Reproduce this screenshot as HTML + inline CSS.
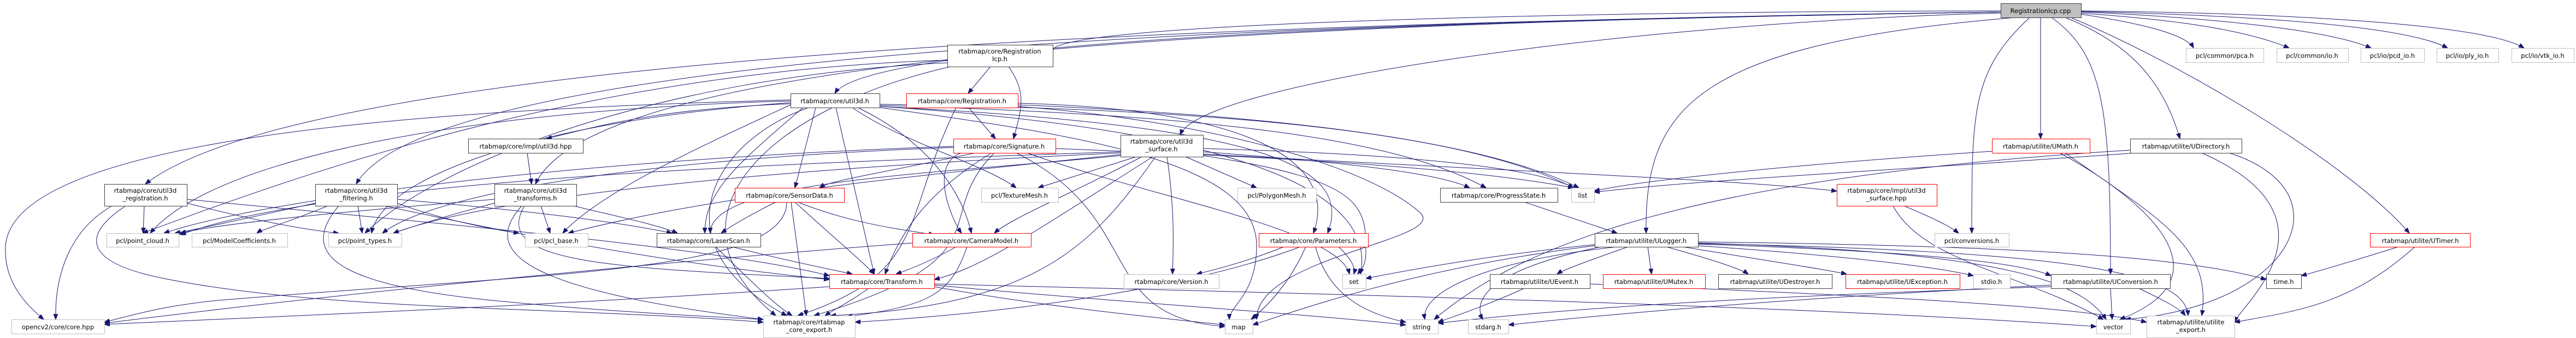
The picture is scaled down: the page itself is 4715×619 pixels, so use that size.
<!DOCTYPE html>
<html><head><meta charset="utf-8"><style>
html,body{margin:0;padding:0;background:#fff;}
svg{display:block;}
text{font-family:"DejaVu Sans","Liberation Sans",sans-serif;font-size:11.5px;fill:#000;text-anchor:middle;}
.e{fill:none;stroke:#191970;stroke-width:1;}
.n{fill:#fff;stroke:#404040;stroke-width:1;}
.r{fill:#fff;stroke:#ff0000;stroke-width:1;}
.g{fill:#fff;stroke:#bfbfbf;stroke-width:1;}
</style></head><body>
<svg width="4715" height="619" viewBox="0 0 4715 619" xmlns="http://www.w3.org/2000/svg">
<defs><marker id="a" viewBox="0 0 10 8" refX="10" refY="4" markerWidth="10" markerHeight="8" markerUnits="userSpaceOnUse" orient="auto"><path d="M0,0 L10,4 L0,8 z" fill="#191970" stroke="#191970"/></marker></defs>
<g marker-end="url(#a)">
<!-- cpp -->
<path class="e" d="M3662,20 C3000,20 1900,40 1927,95"/>
<path class="e" d="M3662,22 C3000,30 1600,60 1528,171"/>
<path class="e" d="M3662,22 C2500,40 600,80 266,337"/>
<path class="e" d="M3662,24 C3000,40 2200,150 2160,247"/>
<path class="e" d="M3662,22 C2500,40 1100,80 980,337"/>
<path class="e" d="M3662,22 C2500,40 800,80 652,337"/>
<path class="e" d="M3690,32 C3100,80 3010,200 3013,427"/>
<path class="e" d="M3735,32 L3735,254"/>
<path class="e" d="M3755,32 C3850,100 3863,200 3863,502"/>
<path class="e" d="M3780,32 C3900,80 3960,150 3990,254"/>
<path class="e" d="M3790,32 C4000,120 4300,300 4410,427"/>
<path class="e" d="M3715,32 C3610,130 3609,200 3609,427"/>
<path class="e" d="M3809,26 C3900,40 4000,60 4015,88"/>
<path class="e" d="M3809,24 C3950,34 4100,50 4190,88"/>
<path class="e" d="M3809,22 C4000,30 4250,50 4340,88"/>
<path class="e" d="M3809,21 C4100,28 4400,45 4480,88"/>
<path class="e" d="M3809,20 C4200,24 4550,45 4620,88"/>
<!-- icph -->
<path class="e" d="M1813,122 L1772,171"/>
<path class="e" d="M1846,122 C1880,170 1870,200 1855,254"/>
<path class="e" d="M1734,110 C1100,130 600,300 261,427"/>
<path class="e" d="M1734,115 C1200,140 800,300 668,427"/>
<path class="e" d="M1740,122 C1400,200 1200,400 1420,578"/>
<!-- regh -->
<path class="e" d="M1773,197 L1822,254"/>
<path class="e" d="M1750,197 C1650,400 1700,500 1460,578"/>
<path class="e" d="M1863,189 C2300,200 2450,300 2404,427"/>
<path class="e" d="M1863,192 C2300,210 2700,250 2890,344"/>
<path class="e" d="M1863,195 C2200,220 2500,300 2600,390 C2650,440 2300,470 2300,585"/>
<!-- u3d -->
<path class="e" d="M1447,190 C1200,200 1100,230 1000,254"/>
<path class="e" d="M1493,197 L1455,344"/>
<path class="e" d="M1530,197 L1600,502"/>
<path class="e" d="M1480,197 C1300,260 1200,450 1440,578"/>
<path class="e" d="M1570,197 C1700,260 1760,350 1778,427"/>
<path class="e" d="M1610,193 C2200,210 2550,250 2720,344"/>
<path class="e" d="M1610,195 C2300,230 2480,300 2430,427"/>
<path class="e" d="M1447,185 C900,200 400,280 275,427"/>
<path class="e" d="M1447,188 C1000,220 700,320 680,427"/>
<path class="e" d="M1447,192 C1300,260 1100,350 1030,427"/>
<path class="e" d="M1560,197 C1650,260 1800,300 1860,344"/>
<path class="e" d="M1447,183 C800,200 0,250 10,460 C10,520 50,560 80,585"/>
<path class="e" d="M1610,191 C2300,200 2700,250 2880,344"/>
<path class="e" d="M1610,197 C2000,250 2300,300 2300,450 C2300,540 2250,560 2250,585"/>
<path class="e" d="M1610,195 C2300,240 2520,360 2490,502"/>
<path class="e" d="M1470,197 C1350,300 1290,350 1290,427"/>
<!-- ihpp -->
<path class="e" d="M965,280 L973,337"/>
<!-- sig -->
<path class="e" d="M1785,280 C1600,320 1520,330 1500,344"/>
<path class="e" d="M1815,280 C1700,350 1650,420 1620,502"/>
<path class="e" d="M1820,280 C1700,400 1850,470 1490,578"/>
<path class="e" d="M1860,280 C2100,400 2000,580 2242,598"/>
<path class="e" d="M1932,272 C2400,290 2700,310 2880,344"/>
<path class="e" d="M1880,280 C2100,360 2450,420 2470,502"/>
<path class="e" d="M1760,280 C1700,300 1740,400 1760,427"/>
<path class="e" d="M1745,270 C1200,290 800,350 700,427"/>
<path class="e" d="M1745,268 C1100,290 500,360 300,427"/>
<!-- surf -->
<path class="e" d="M2080,287 L1900,344"/>
<path class="e" d="M2170,287 L2300,344"/>
<path class="e" d="M2090,287 C1950,360 1850,400 1820,427"/>
<path class="e" d="M2110,287 C1900,420 1800,490 1710,512"/>
<path class="e" d="M2115,287 C2000,450 1900,560 1520,578"/>
<path class="e" d="M2136,287 C2150,380 2148,450 2146,502"/>
<path class="e" d="M2202,278 C2500,300 2640,320 2690,344"/>
<path class="e" d="M2202,272 C2500,280 2800,300 2880,344"/>
<path class="e" d="M2202,282 C2700,310 3200,330 3362,350"/>
<path class="e" d="M2051,278 C1400,300 600,330 330,430"/>
<path class="e" d="M2051,280 C1400,310 900,360 720,427"/>
<path class="e" d="M2051,283 C1600,330 1300,360 1040,427"/>
<path class="e" d="M2051,285 C1700,320 1300,330 1300,427"/>
<path class="e" d="M2202,285 C2500,330 2500,380 2500,460 C2500,490 2490,495 2485,502"/>
<!-- reg3 -->
<path class="e" d="M264,377 L262,427"/>
<path class="e" d="M342,372 C450,400 550,420 620,427"/>
<path class="e" d="M205,377 C130,420 100,500 102,585"/>
<path class="e" d="M230,377 C150,430 150,480 300,510 C600,570 1000,560 1397,590"/>
<path class="e" d="M342,365 C700,400 1300,450 1518,505"/>
<!-- filt -->
<path class="e" d="M577,372 C450,400 360,420 320,427"/>
<path class="e" d="M600,377 C520,410 480,420 470,427"/>
<path class="e" d="M655,377 L663,427"/>
<path class="e" d="M620,377 C550,460 600,520 900,550 C1100,570 1300,580 1397,585"/>
<path class="e" d="M704,377 C900,420 1200,480 1518,512"/>
<path class="e" d="M727,365 C900,380 1100,400 1230,427"/>
<path class="e" d="M727,372 C800,400 900,420 950,427"/>
<!-- trans3 -->
<path class="e" d="M990,377 L1007,427"/>
<path class="e" d="M1050,377 C1100,390 1200,410 1240,427"/>
<path class="e" d="M905,365 C600,390 400,410 330,427"/>
<path class="e" d="M905,372 C800,400 740,420 720,427"/>
<path class="e" d="M955,377 C880,460 950,530 1397,585"/>
<path class="e" d="M960,377 C900,480 1100,490 1518,510"/>
<!-- sens -->
<path class="e" d="M1420,370 C1360,400 1330,420 1320,427"/>
<path class="e" d="M1460,370 C1560,410 1650,420 1710,430"/>
<path class="e" d="M1455,370 C1520,430 1580,480 1600,502"/>
<path class="e" d="M1448,370 L1476,578"/>
<path class="e" d="M1440,370 C1440,500 1000,500 400,550 C300,560 250,575 191,590"/>
<!-- laser -->
<path class="e" d="M1340,452 C1450,480 1530,495 1560,502"/>
<path class="e" d="M1310,452 C1380,520 1420,560 1450,578"/>
<!-- cam -->
<path class="e" d="M1750,452 C1700,480 1660,495 1640,502"/>
<path class="e" d="M1770,452 C1740,540 1700,560 1550,580"/>
<path class="e" d="M1670,445 C1200,480 600,540 191,592"/>
<!-- tf -->
<path class="e" d="M1590,528 C1560,550 1530,565 1510,578"/>
<path class="e" d="M1518,525 C1000,560 500,580 191,594"/>
<path class="e" d="M1710,520 C2500,540 3300,560 3837,598"/>
<path class="e" d="M1710,522 C2000,550 2400,575 2573,595"/>
<path class="e" d="M1710,525 C1900,560 2100,580 2242,595"/>
<!-- params -->
<path class="e" d="M2380,452 C2200,520 1900,570 1565,590"/>
<path class="e" d="M2350,452 C2280,480 2220,495 2190,502"/>
<path class="e" d="M2408,452 C2430,540 2500,575 2573,590"/>
<path class="e" d="M2390,452 C2360,520 2320,560 2290,585"/>
<path class="e" d="M2450,452 C2480,480 2480,495 2478,502"/>
<!-- prog -->
<path class="e" d="M2790,370 C2880,400 2940,420 2960,427"/>
<!-- ulog -->
<path class="e" d="M2980,452 C2900,480 2860,495 2850,502"/>
<path class="e" d="M3016,452 L3023,502"/>
<path class="e" d="M3050,452 C3150,480 3190,495 3200,502"/>
<path class="e" d="M3080,452 C3250,480 3350,495 3380,502"/>
<path class="e" d="M3108,450 C3400,470 3550,490 3612,505"/>
<path class="e" d="M3108,447 C3500,460 3700,480 3754,505"/>
<path class="e" d="M2960,452 C2700,480 2600,540 2608,585"/>
<path class="e" d="M2930,452 C2700,500 2700,560 2714,585"/>
<path class="e" d="M3108,445 C3600,460 3800,500 3855,585"/>
<path class="e" d="M2919,448 C2700,470 2550,500 2500,510"/>
<path class="e" d="M3108,443 C3700,450 4000,470 4148,512"/>
<path class="e" d="M3108,446 C3800,460 4000,500 4005,578"/>
<path class="e" d="M2919,450 C2600,490 2400,560 2293,595"/>
<!-- uevent -->
<path class="e" d="M2790,528 C2720,560 2660,580 2632,590"/>
<path class="e" d="M2910,520 C3400,540 3800,560 3929,590"/>
<!-- umath -->
<path class="e" d="M3646,277 C3300,300 3000,330 2918,350"/>
<path class="e" d="M3770,280 C3900,350 4100,500 3880,585"/>
<path class="e" d="M3780,280 C3950,400 4050,450 4030,578"/>
<!-- udir -->
<path class="e" d="M3910,280 C3500,310 3100,330 2918,352"/>
<path class="e" d="M4030,280 C4300,400 4100,560 4090,590"/>
<path class="e" d="M4080,280 C4300,350 4200,560 3890,585"/>
<path class="e" d="M3899,275 C3000,330 2750,480 2625,585"/>
<!-- utimer -->
<path class="e" d="M4390,452 C4300,480 4250,495 4212,505"/>
<path class="e" d="M4420,452 C4300,560 4200,570 4090,590"/>
<!-- uconv -->
<path class="e" d="M3863,528 L3866,585"/>
<path class="e" d="M3915,528 C3960,550 3990,565 4000,578"/>
<path class="e" d="M3754,525 C3300,540 2900,560 2632,592"/>
<path class="e" d="M3754,522 C3300,545 3000,570 2761,595"/>
<!-- isurf -->
<path class="e" d="M3485,377 C3540,400 3570,415 3585,427"/>
<path class="e" d="M3465,377 C3520,480 3700,500 3850,585"/>
</g>
<!-- nodes -->
<rect class="n" x="3662.5" y="6.5" width="147" height="26" style="fill:#bfbfbf"/><text x="3735" y="24">RegistrationIcp.cpp</text>
<rect class="n" x="1734.5" y="82.5" width="193" height="40"/><text x="1830" y="98">rtabmap/core/Registration</text><text x="1830" y="112">Icp.h</text>
<rect class="r" x="1659.5" y="171.5" width="204" height="26"/><text x="1761" y="189">rtabmap/core/Registration.h</text>
<rect class="n" x="1447.5" y="171.5" width="163" height="26"/><text x="1528" y="189">rtabmap/core/util3d.h</text>
<rect class="n" x="857.5" y="254.5" width="210" height="26"/><text x="962" y="272">rtabmap/core/impl/util3d.hpp</text>
<rect class="r" x="1745.5" y="254.5" width="187" height="26"/><text x="1838" y="272">rtabmap/core/Signature.h</text>
<rect class="n" x="2051.5" y="247.5" width="151" height="40"/><text x="2126" y="263">rtabmap/core/util3d</text><text x="2126" y="277">_surface.h</text>
<rect class="r" x="3646.5" y="254.5" width="179" height="26"/><text x="3735" y="272">rtabmap/utilite/UMath.h</text>
<rect class="n" x="3899.5" y="254.5" width="204" height="26"/><text x="4001" y="272">rtabmap/utilite/UDirectory.h</text>
<rect class="n" x="191.5" y="337.5" width="151" height="40"/><text x="266" y="353">rtabmap/core/util3d</text><text x="266" y="367">_registration.h</text>
<rect class="n" x="577.5" y="337.5" width="150" height="40"/><text x="652" y="353">rtabmap/core/util3d</text><text x="652" y="367">_filtering.h</text>
<rect class="n" x="905.5" y="337.5" width="150" height="40"/><text x="980" y="353">rtabmap/core/util3d</text><text x="980" y="367">_transforms.h</text>
<rect class="r" x="1345.5" y="344.5" width="200" height="26"/><text x="1445" y="362">rtabmap/core/SensorData.h</text>
<rect class="g" x="1796.5" y="344.5" width="141" height="26"/><text x="1866" y="362">pcl/TextureMesh.h</text>
<rect class="g" x="2265.5" y="344.5" width="144" height="26"/><text x="2337" y="362">pcl/PolygonMesh.h</text>
<rect class="n" x="2636.5" y="344.5" width="215" height="26"/><text x="2743" y="362">rtabmap/core/ProgressState.h</text>
<rect class="g" x="2876.5" y="344.5" width="42" height="26"/><text x="2897" y="362">list</text>
<rect class="r" x="3362.5" y="337.5" width="183" height="40"/><text x="3453" y="353">rtabmap/core/impl/util3d</text><text x="3453" y="367">_surface.hpp</text>
<rect class="g" x="195.5" y="427.5" width="132" height="25"/><text x="261" y="445">pcl/point_cloud.h</text>
<rect class="g" x="351.5" y="427.5" width="175" height="25"/><text x="438" y="445">pcl/ModelCoefficients.h</text>
<rect class="g" x="601.5" y="427.5" width="134" height="25"/><text x="668" y="445">pcl/point_types.h</text>
<rect class="g" x="961.5" y="427.5" width="115" height="25"/><text x="1018" y="445">pcl/pcl_base.h</text>
<rect class="n" x="1202.5" y="427.5" width="190" height="25"/><text x="1297" y="445">rtabmap/core/LaserScan.h</text>
<rect class="r" x="1670.5" y="427.5" width="217" height="25"/><text x="1778" y="445">rtabmap/core/CameraModel.h</text>
<rect class="r" x="2304.5" y="427.5" width="200" height="25"/><text x="2404" y="445">rtabmap/core/Parameters.h</text>
<rect class="n" x="2919.5" y="427.5" width="189" height="25"/><text x="3013" y="445">rtabmap/utilite/ULogger.h</text>
<rect class="g" x="3541.5" y="427.5" width="136" height="25"/><text x="3609" y="445">pcl/conversions.h</text>
<rect class="r" x="4338.5" y="427.5" width="183" height="25"/><text x="4430" y="445">rtabmap/utilite/UTimer.h</text>
<rect class="r" x="1518.5" y="502.5" width="192" height="26"/><text x="1614" y="520">rtabmap/core/Transform.h</text>
<rect class="g" x="2057.5" y="502.5" width="174" height="26"/><text x="2144" y="520">rtabmap/core/Version.h</text>
<rect class="g" x="2457.5" y="502.5" width="43" height="26"/><text x="2478" y="520">set</text>
<rect class="n" x="2727.5" y="502.5" width="183" height="26"/><text x="2818" y="520">rtabmap/utilite/UEvent.h</text>
<rect class="r" x="2934.5" y="502.5" width="187" height="26"/><text x="3027" y="520">rtabmap/utilite/UMutex.h</text>
<rect class="n" x="3145.5" y="502.5" width="208" height="26"/><text x="3249" y="520">rtabmap/utilite/UDestroyer.h</text>
<rect class="r" x="3378.5" y="502.5" width="209" height="26"/><text x="3482" y="520">rtabmap/utilite/UException.h</text>
<rect class="g" x="3612.5" y="502.5" width="67" height="26"/><text x="3645" y="520">stdio.h</text>
<rect class="n" x="3754.5" y="502.5" width="218" height="26"/><text x="3863" y="520">rtabmap/utilite/UConversion.h</text>
<rect class="n" x="4148.5" y="502.5" width="64" height="26"/><text x="4180" y="520">time.h</text>
<rect class="g" x="21.5" y="585.5" width="170" height="26"/><text x="106" y="603">opencv2/core/core.hpp</text>
<rect class="g" x="1397.5" y="578.5" width="168" height="40"/><text x="1481" y="594">rtabmap/core/rtabmap</text><text x="1481" y="608">_core_export.h</text>
<rect class="g" x="2242.5" y="585.5" width="51" height="26"/><text x="2267" y="603">map</text>
<rect class="g" x="2573.5" y="585.5" width="59" height="26"/><text x="2602" y="603">string</text>
<rect class="g" x="2687.5" y="585.5" width="74" height="26"/><text x="2724" y="603">stdarg.h</text>
<rect class="g" x="3837.5" y="585.5" width="62" height="26"/><text x="3868" y="603">vector</text>
<rect class="g" x="3929.5" y="578.5" width="161" height="40"/><text x="4010" y="594">rtabmap/utilite/utilite</text><text x="4010" y="608">_export.h</text>
<rect class="g" x="4001.5" y="88.5" width="142" height="26"/><text x="4072" y="106">pcl/common/pca.h</text>
<rect class="g" x="4167.5" y="88.5" width="131" height="26"/><text x="4232" y="106">pcl/common/io.h</text>
<rect class="g" x="4321.5" y="88.5" width="116" height="26"/><text x="4379" y="106">pcl/io/pcd_io.h</text>
<rect class="g" x="4460.5" y="88.5" width="113" height="26"/><text x="4516" y="106">pcl/io/ply_io.h</text>
<rect class="g" x="4597.5" y="88.5" width="114" height="26"/><text x="4654" y="106">pcl/io/vtk_io.h</text>
</svg>
</body></html>
